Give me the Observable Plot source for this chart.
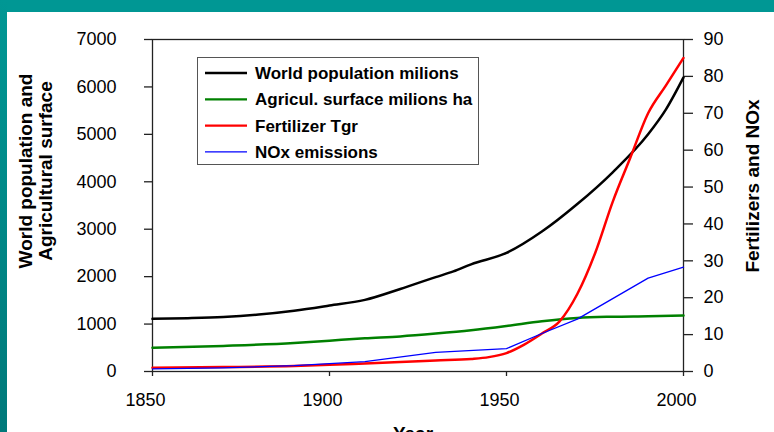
<!DOCTYPE html>
<html><head><meta charset="utf-8">
<script src="https://cdn.jsdelivr.net/npm/d3@7"></script>
<script src="https://cdn.jsdelivr.net/npm/@observablehq/plot@0.6"></script>
<style>
html,body{margin:0;padding:0;background:#fff;}
#wrap{position:relative;width:774px;height:432px;overflow:hidden;background:#fff;}
#chart svg{position:absolute;left:0;top:0;}
#topband{position:absolute;left:0;top:0;width:774px;height:12px;background:#009794;}
#leftband{position:absolute;left:0;top:0;width:7px;height:432px;background:linear-gradient(#009794,#00797a);}
</style></head>
<body>
<div id="wrap"><div id="chart"></div><div id="topband"></div><div id="leftband"></div></div>
<script>
// ---- data ----
const popYears = [1850,1860,1870,1880,1890,1900,1910,1920,1930,1935,1940,1950,1960,1970,1980,1990,1995,2000];
const popValues = [1110,1125,1150,1200,1280,1390,1510,1740,1990,2110,2260,2500,2950,3530,4200,5000,5520,6200];

const agriYears = [1850,1870,1890,1900,1910,1920,1930,1940,1950,1960,1970,1980,1990,2000];
const agriValues = [500,540,600,650,700,740,800,870,960,1060,1130,1155,1165,1180];

const fertYears = [1850,1870,1890,1900,1910,1920,1930,1940,1945,1950,1955,1960,1965,1970,1975,1980,1985,1990,1995,2000];
const fertValues = [1.0,1.2,1.5,1.8,2.2,2.6,3.0,3.4,3.9,5.0,7.3,10.3,13.6,21,32,46,58,70,77.5,85];

const noxYears = [1850,1870,1890,1910,1930,1950,1960,1970,1990,2000];
const noxValues = [0.7,1.0,1.6,2.7,5.2,6.2,10.3,14.2,25.3,28.3];

const seriesNames = ["World population milions","Agricul. surface milions ha","Fertilizer Tgr","NOx emissions"];
const seriesColors = ["#000000","#008000","#ff0000","#0000ff"];
const seriesWidths = [2.5,2.5,2.5,1.3];

const xTicks = [1850,1900,1950,2000];
const yLeftTicks = [0,1000,2000,3000,4000,5000,6000,7000];
const yRightTicks = [0,10,20,30,40,50,60,70,80,90];
const leftMax = 7000, rightMax = 90;

const yTitleLeft = ["World population and","Agricultural surface"];
const yTitleRight = "Fertilizers and NOx";
const xTitle = "Year";

// ---- build tables ----
const toLeft = v => v * leftMax / rightMax;
const mk = (ys, vs, f) => ys.map((y, i) => ({year: y, v: f ? f(vs[i]) : vs[i]}));
const tables = [
  mk(popYears, popValues),
  mk(agriYears, agriValues),
  mk(fertYears, fertValues, toLeft),
  mk(noxYears, noxValues, toLeft)
];
const curves = ["monotone-x","monotone-x","monotone-x","linear"];

const plot = Plot.plot({
  width: 774, height: 432,
  marginTop: 39, marginBottom: 61, marginLeft: 152, marginRight: 91,
  style: {fontFamily: "'Liberation Sans', Arial, sans-serif", fontSize: "18px", color: "#000", background: "transparent", overflow: "visible"},
  x: {domain: [1850, 2000]},
  y: {domain: [0, leftMax]},
  marks: [
    Plot.axisX({ticks: xTicks, tickSize: 5, fill: "none", stroke: "#222", strokeWidth: 1.3, label: null}),
    Plot.axisX({ticks: xTicks, tickSize: 0, tickPadding: 22, dx: -7, tickFormat: d => String(d), label: null}),
    Plot.axisY({ticks: yLeftTicks, tickSize: 8, tickPadding: 28, stroke: "#222", strokeWidth: 1.3, label: null, tickFormat: d => String(d)}),
    Plot.axisY({anchor: "right", ticks: yRightTicks.map(toLeft), tickSize: 9, tickPadding: 11, stroke: "#222", strokeWidth: 1.3,
      tickFormat: d => String(Math.round(d * rightMax / leftMax)), label: null}),
    Plot.frame({stroke: "#222", strokeWidth: 1.3}),
    ...tables.map((t, i) => Plot.line(t, {x: "year", y: "v", stroke: seriesColors[i], strokeWidth: seriesWidths[i], curve: curves[i]}))
  ]
});
document.getElementById("chart").appendChild(plot);

const svg = d3.select(plot);
const ff = "'Liberation Sans', Arial, sans-serif";

// legend
const lg = svg.append("g").attr("text-anchor", "start");
lg.append("rect").attr("x", 197.5).attr("y", 57.5).attr("width", 281).attr("height", 107)
  .attr("fill", "#fff").attr("stroke", "#555").attr("stroke-width", 1);
seriesNames.forEach((name, i) => {
  const cy = 73 + i * 26.3;
  lg.append("line").attr("x1", 205).attr("x2", 247).attr("y1", cy).attr("y2", cy)
    .attr("stroke", seriesColors[i]).attr("stroke-width", i === 3 ? 1.3 : 2.3);
  lg.append("text").attr("x", 255).attr("y", cy).attr("dy", "0.36em").attr("text-anchor", "start")
    .attr("font-family", ff).attr("font-size", 17).attr("font-weight", "bold").attr("fill", "#000").text(name);
});

// axis titles
yTitleLeft.forEach((t, i) => {
  svg.append("text").attr("transform", `translate(${32 + i * 19.5},171) rotate(-90)`)
    .attr("text-anchor", "middle").attr("font-family", ff).attr("font-size", 19).attr("font-weight", "bold").attr("fill", "#000").text(t);
});
svg.append("text").attr("transform", `translate(759,186) rotate(-90)`)
  .attr("text-anchor", "middle").attr("font-family", ff).attr("font-size", 19).attr("font-weight", "bold").attr("fill", "#000").text(yTitleRight);
svg.append("text").attr("x", 413).attr("y", 440).attr("text-anchor", "middle")
  .attr("font-family", ff).attr("font-size", 19).attr("font-weight", "bold").attr("fill", "#000").text(xTitle);
</script>
</body></html>
